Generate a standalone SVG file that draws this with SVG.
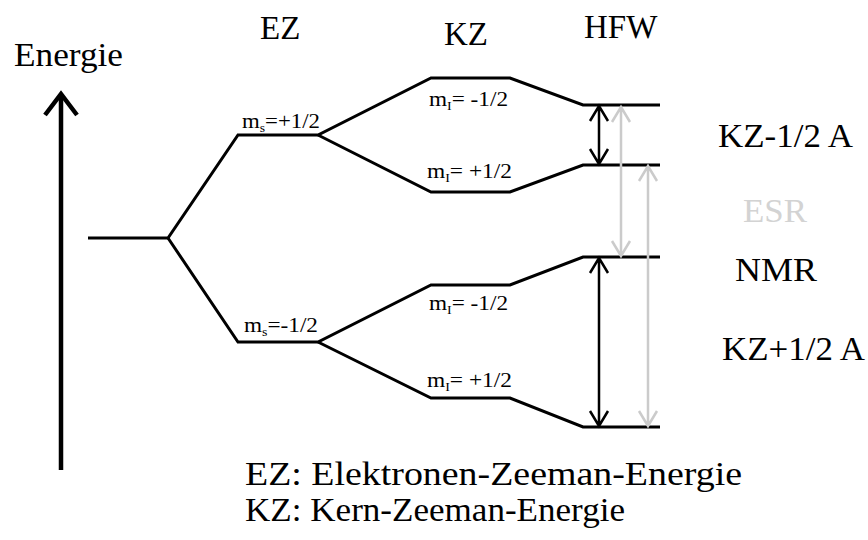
<svg xmlns="http://www.w3.org/2000/svg" width="868" height="540" viewBox="0 0 868 540">
<style>
text{font-family:"Liberation Serif","Times New Roman",serif;fill:#000}
.big{font-size:33px}
.sm{font-size:20px}
.sub{font-size:12px}
.lvl{fill:none;stroke:#000;stroke-width:3;stroke-linejoin:miter}
.blk{stroke:#000;stroke-width:2.5;fill:none}
.gry{stroke:#cbcbcb;stroke-width:2.5;fill:none}
.esr{fill:#d3d3d3}
</style>
<g id="energy-axis">
<line x1="61" y1="470" x2="61" y2="96" stroke="#000" stroke-width="4.5"/>
<path d="M45,115 L61,94 L77,115" fill="none" stroke="#000" stroke-width="4.5"/>
<text class="big" x="14" y="66" textLength="109" lengthAdjust="spacingAndGlyphs">Energie</text>
</g>
<g id="headers">
<text class="big" x="260" y="39">EZ</text>
<text class="big" x="444" y="45">KZ</text>
<text class="big" x="584" y="38">HFW</text>
</g>
<g id="levels">
<path class="lvl" d="M88,238 H168 L238,135 H318 L431,78 H510 L583,105 H660"/>
<path class="lvl" d="M318,135 L431,192 H510 L583,165 H660"/>
<path class="lvl" d="M168,238 L238,342 H318 L431,285 H510 L583,257 H660"/>
<path class="lvl" d="M318,342 L431,398 H510 L583,427 H660"/>
</g>
<g id="level-labels">
<text class="sm" x="242" y="128" textLength="78" lengthAdjust="spacingAndGlyphs">m<tspan class="sub" dy="4">s</tspan><tspan dy="-4">=+1/2</tspan></text>
<text class="sm" x="429" y="106" textLength="79" lengthAdjust="spacingAndGlyphs">m<tspan class="sub" dy="4">I</tspan><tspan dy="-4">= -1/2</tspan></text>
<text class="sm" x="427" y="178" textLength="85" lengthAdjust="spacingAndGlyphs">m<tspan class="sub" dy="4">I</tspan><tspan dy="-4">= +1/2</tspan></text>
<text class="sm" x="244" y="332" textLength="74" lengthAdjust="spacingAndGlyphs">m<tspan class="sub" dy="4">s</tspan><tspan dy="-4">=-1/2</tspan></text>
<text class="sm" x="429" y="310" textLength="79" lengthAdjust="spacingAndGlyphs">m<tspan class="sub" dy="4">I</tspan><tspan dy="-4">= -1/2</tspan></text>
<text class="sm" x="427" y="387" textLength="85" lengthAdjust="spacingAndGlyphs">m<tspan class="sub" dy="4">I</tspan><tspan dy="-4">= +1/2</tspan></text>
</g>
<g id="transitions">
<path class="gry" d="M621,107 V256 M612,122 L621,107 L630,122 M612,241 L621,256 L630,241"/>
<path class="gry" d="M648,166 V426 M639,181 L648,166 L657,181 M639,411 L648,426 L657,411"/>
<path class="blk" d="M599,106 V164 M590,121 L599,106 L608,121 M590,149 L599,164 L608,149"/>
<path class="blk" d="M599,258 V426 M590,273 L599,258 L608,273 M590,411 L599,426 L608,411"/>
</g>
<g id="right-labels">
<text class="big" x="718" y="147" textLength="135" lengthAdjust="spacingAndGlyphs">KZ-1/2 A</text>
<text class="big esr" x="743" y="222" textLength="64" lengthAdjust="spacingAndGlyphs">ESR</text>
<text class="big" x="735" y="281" textLength="82" lengthAdjust="spacingAndGlyphs">NMR</text>
<text class="big" x="722" y="360" textLength="143" lengthAdjust="spacingAndGlyphs">KZ+1/2 A</text>
</g>
<g id="legend">
<text class="big" x="245" y="485" textLength="497" lengthAdjust="spacingAndGlyphs">EZ: Elektronen-Zeeman-Energie</text>
<text class="big" x="245" y="521" textLength="380" lengthAdjust="spacingAndGlyphs">KZ: Kern-Zeeman-Energie</text>
</g>
</svg>
